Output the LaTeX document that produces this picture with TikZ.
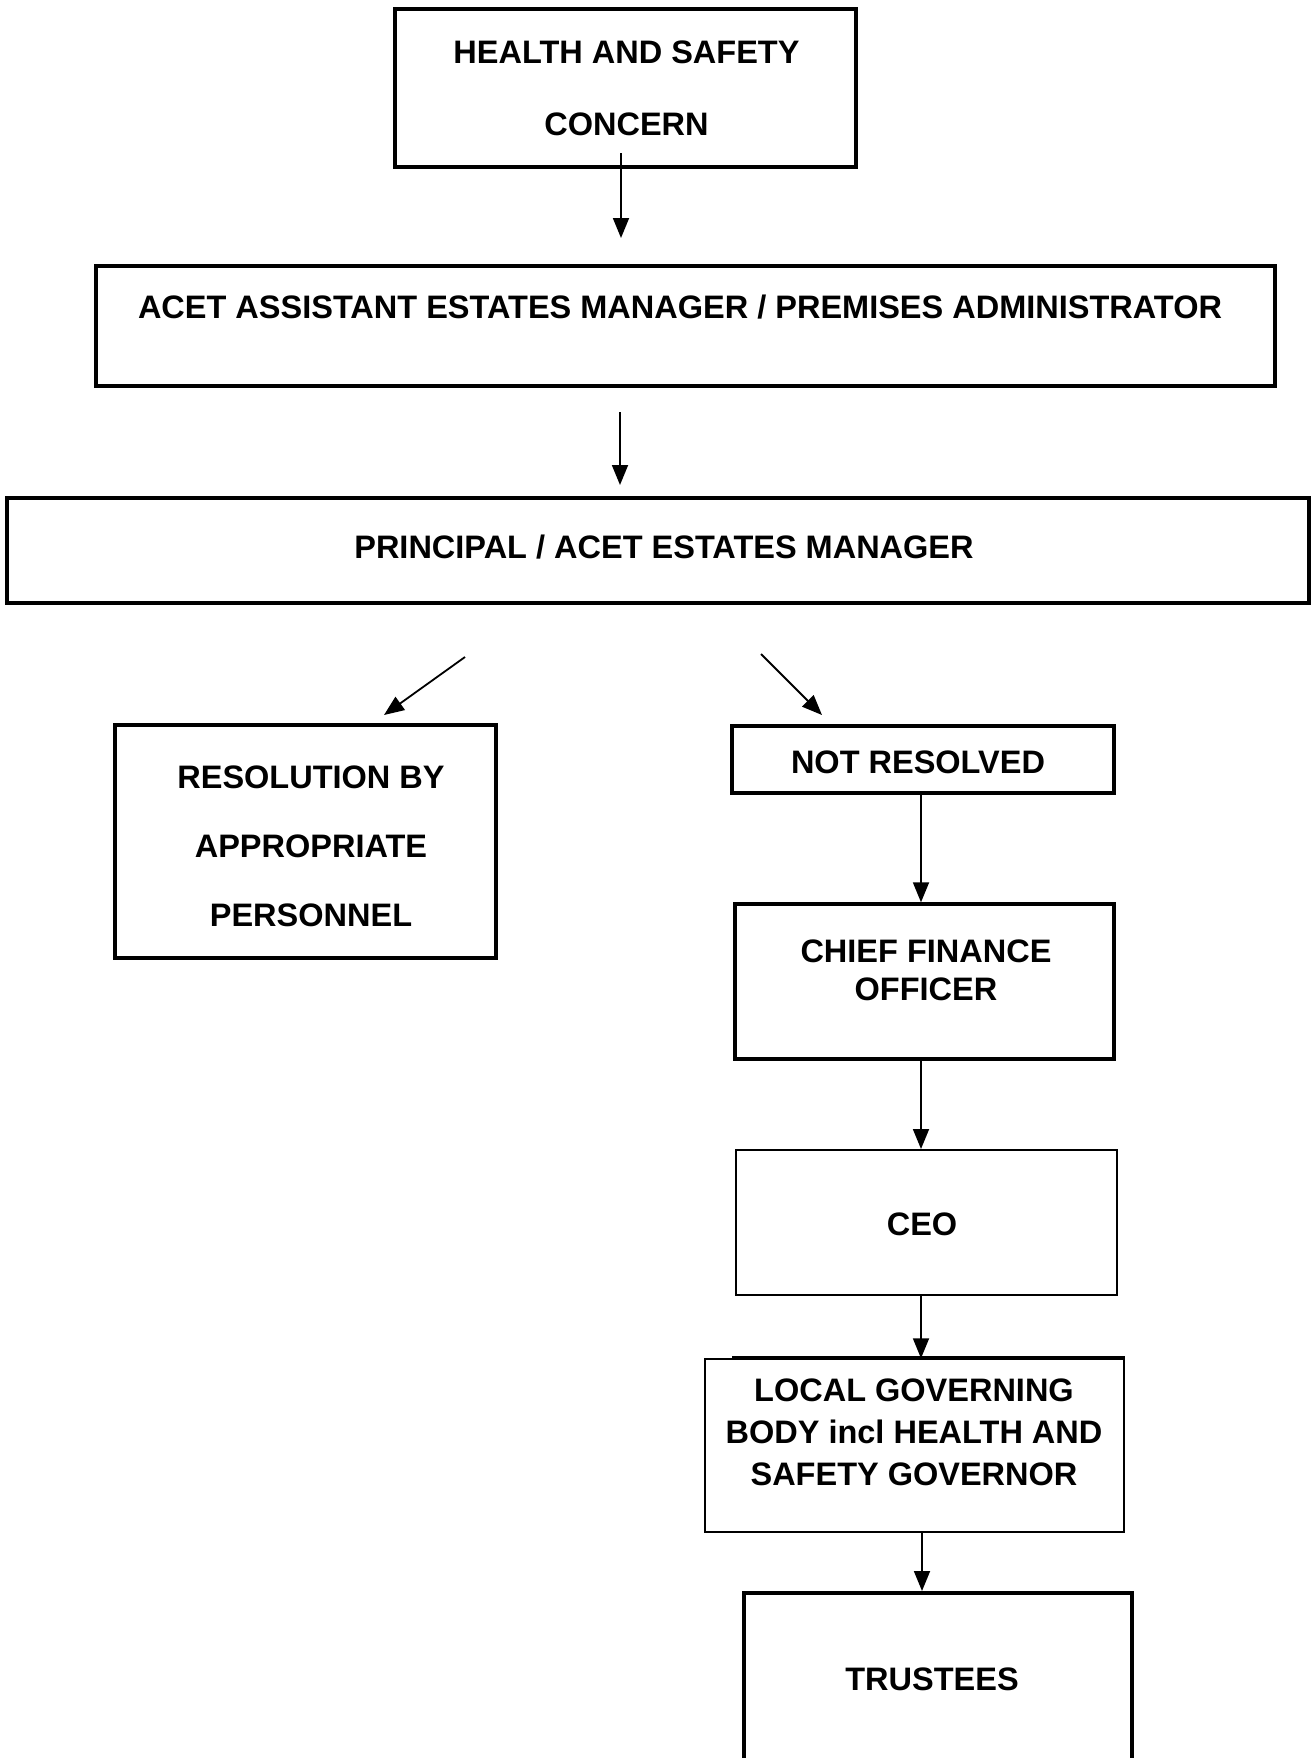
\documentclass[tikz,border=0pt]{standalone}
\usepackage{fontspec}
\setmainfont{Liberation Sans}
\usetikzlibrary{arrows.meta,calc}
\begin{document}
\begin{tikzpicture}[x=0.5pt,y=-0.5pt,
  box/.style={draw, rectangle, inner sep=0pt, line width=1.7pt},
  txt/.style={inner sep=0pt, align=center, font=\bfseries\fontsize{16.25}{19}\selectfont},
  arr/.style={line width=0.9pt, -{Triangle[length=10pt,width=8pt]}}]
\useasboundingbox (0,0) rectangle (1311,1758);
% boxes
\node[box, line width=2.2pt, minimum width=230.5pt, minimum height=79pt] (top) at (625.5,88) {};
\node[box, minimum width=589.5pt, minimum height=60pt] (acet) at (685.5,326) {};
\node[box, line width=2pt, minimum width=651pt, minimum height=52.5pt] (prin) at (658,550.5) {};
\node[box, minimum width=190.5pt, minimum height=116.5pt] (res) at (305.5,841.5) {};
\node[box, minimum width=191pt, minimum height=33.5pt] (nr) at (923,759.5) {};
\node[box, minimum width=189.5pt, minimum height=77.5pt] (cfo) at (924.5,981.5) {};
\node[box, line width=1pt, minimum width=190.5pt, minimum height=72.5pt] (ceo) at (926.5,1222.5) {};
\node[box, line width=0.7pt, minimum width=209.5pt, minimum height=86.5pt] (lgb) at (914.5,1445.5) {};
\node[box, line width=2pt, minimum width=194pt, minimum height=103.5pt] (tru) at (937.5,1696.5) {};
\draw[line width=1.3pt] ($(lgb.north west)+(28,-1)$) -- ($(lgb.north east)+(0,-1)$);
% texts
\node[txt, font=\bfseries\fontsize{16.25}{36}\selectfont] (tTop) at (626.5,88) {HEALTH AND SAFETY\\CONCERN};
\node[txt] (tAcet) at (680,307) {ACET ASSISTANT ESTATES MANAGER / PREMISES ADMINISTRATOR};
\node[txt] (tPrin) at (664,547) {PRINCIPAL / ACET ESTATES MANAGER};
\node[txt, font=\bfseries\fontsize{16.25}{34.5}\selectfont] (tRes) at (311,846) {RESOLUTION BY\\APPROPRIATE\\PERSONNEL};
\node[txt] (tNr) at (918,762) {NOT RESOLVED};
\node[txt] (tCfo) at (926,970) {CHIEF FINANCE\\OFFICER};
\node[txt] (tCeo) at (922,1224) {CEO};
\node[txt, font=\bfseries\fontsize{16.25}{21}\selectfont] (tLgb) at (914,1432) {LOCAL GOVERNING\\BODY incl HEALTH AND\\SAFETY GOVERNOR};
\node[txt] (tTru) at (932,1679) {TRUSTEES};
% connectors
\coordinate (a1s) at (621,153);
\coordinate (a1e) at (621,238);
\coordinate (a2s) at (620,412);
\coordinate (a2e) at (620,485);
\coordinate (a3s) at (465,657);
\coordinate (a3e) at (384,715);
\coordinate (a4s) at (761,654);
\coordinate (a4e) at (822,715);
\coordinate (cx) at (921,0);
\coordinate (cy) at (922,0);
\draw[arr] (a1s) -- (a1e);
\draw[arr] (a2s) -- (a2e);
\draw[arr] (a3s) -- (a3e);
\draw[arr] (a4s) -- (a4e);
\draw[arr] (nr.south -| cx) -- (cfo.north -| cx);
\draw[arr] (cfo.south -| cx) -- (ceo.north -| cx);
\draw[arr] (ceo.south -| cx) -- (lgb.north -| cx);
\draw[arr] (lgb.south -| cy) -- (tru.north -| cy);
\end{tikzpicture}
\end{document}
